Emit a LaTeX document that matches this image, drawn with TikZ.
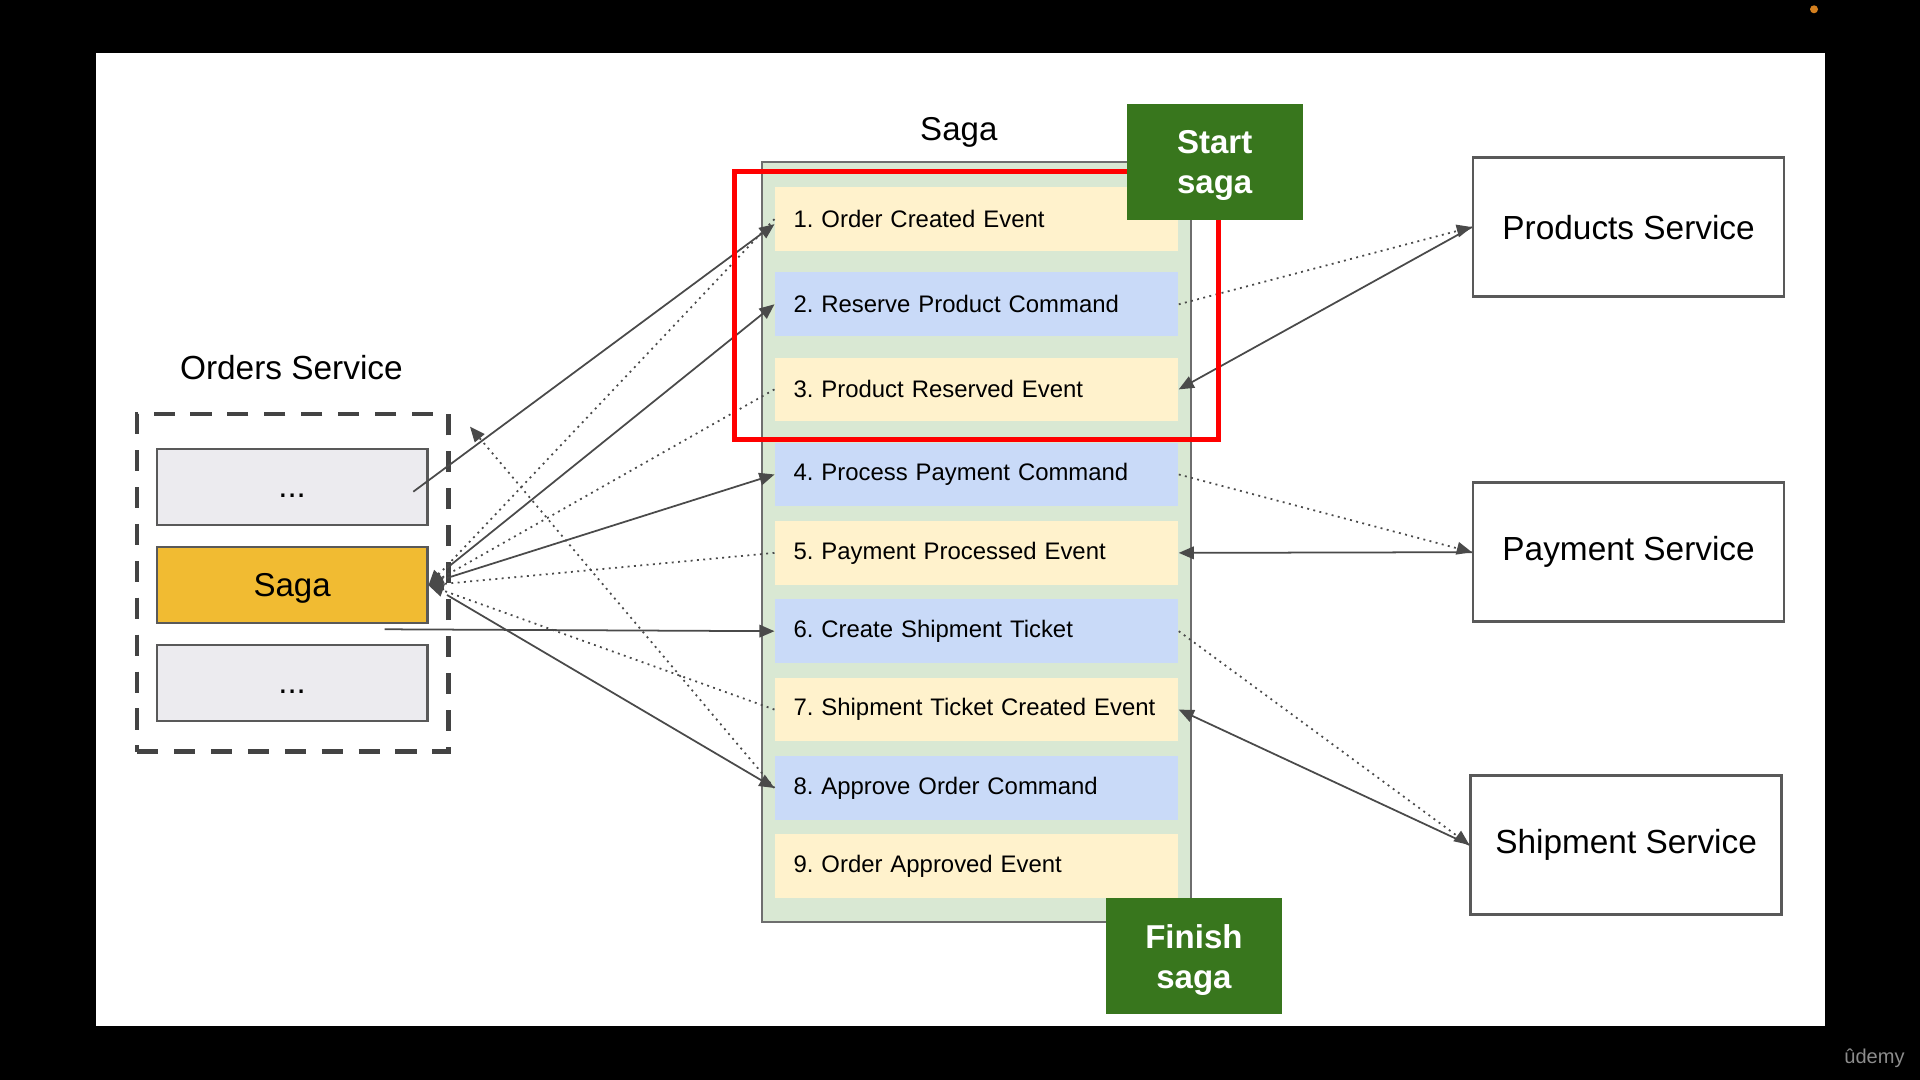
\documentclass[tikz,border=0pt]{standalone}
\usepackage{fontspec}
\setmainfont{Liberation Sans}
\usepackage{tikz}
\usetikzlibrary{arrows,arrows.meta,calc}
\usepackage{xcolor}
\definecolor{boxline}{HTML}{595959}
\definecolor{dashgray}{HTML}{434343}
\definecolor{lanegray}{HTML}{6E6E6E}
\definecolor{wirecol}{HTML}{4A4A4A}
\definecolor{blankfill}{HTML}{ECEBEF}
\definecolor{sagagold}{HTML}{F1BB32}
\definecolor{lanegreen}{HTML}{D9E8D3}
\definecolor{eventyellow}{HTML}{FFF2CC}
\definecolor{cmdblue}{HTML}{C9DAF8}
\definecolor{darkgreen}{HTML}{38761D}
\definecolor{udemygray}{HTML}{8C8C8C}
\definecolor{recdot}{HTML}{D4801F}
\tikzstyle{eventrow}=[fill=eventyellow]
\tikzstyle{cmdrow}=[fill=cmdblue]
\tikzstyle{service}=[draw=boxline, line width=.7pt, fill=white, minimum width=3.11cm, minimum height=1.39cm, font=\fontsize{9.5}{11.5}\selectfont]
\tikzstyle{orderbox}=[draw=boxline, line width=.6pt, minimum width=2.707cm, minimum height=.759cm, text depth=0pt, font=\fontsize{9.4}{11}\selectfont]
\tikzstyle{milestone}=[fill=darkgreen, text=white, minimum width=1.764cm, minimum height=1.16cm, align=center, text depth=0pt, font=\bfseries\fontsize{9.4}{11.5}\selectfont]
\tikzstyle{solidwire}=[wirecol, line width=.5pt, -{Triangle[length=4.3pt,width=3.6pt]}]
\tikzstyle{dotwire}=[solidwire, dash pattern=on .55pt off 1.25pt]
\newcommand{\sagarow}[4]{
 \node[#2, minimum height=.637cm, text width=3.661cm, inner xsep=.184cm, inner ysep=0pt, align=left, font=\fontsize{6.8}{8}\selectfont] (#1) at (9.766,#3) {#4};
}

\begin{document}
\frenchspacing
\begin{tikzpicture}
 \fill[black] (0,0) rectangle (19.2,10.8);
 \fill[white] (.955,.54) rectangle (18.245,10.273);
 \useasboundingbox (0,0) rectangle (19.2,10.8);
 \fill[recdot] (18.14,10.707) circle (.04);
 \node[text=udemygray, font=\fontsize{5.7}{7}\selectfont] (brand) at (18.745,.22) {ûdemy};
%
 \node[font=\fontsize{9.5}{11.5}\selectfont] (orderstitle) at (2.914,7.126) {Orders Service};
 \node[draw=dashgray, line width=1.3pt, dash pattern=on 6pt off 4.5pt, minimum width=3.111cm, minimum height=3.379cm] (orders) at (2.927,4.972) {};
 \node[orderbox, fill=blankfill, text height=5.8pt] (dotsA) at (2.921,5.927) {...};
 \node[orderbox, fill=sagagold] (saga) at (2.921,4.947) {Saga};
 \node[orderbox, fill=blankfill, text height=5.8pt] (dotsB) at (2.921,3.968) {...};
%
 \node[font=\fontsize{9.4}{11}\selectfont] (sagatitle) at (9.588,9.478) {Saga};
 \node[fill=lanegreen, draw=lanegray, line width=.6pt, minimum width=4.298cm, minimum height=7.605cm] (lane) at (9.765,5.3815) {};
 \sagarow{r1}{eventrow}{8.608}{1. Order Created Event}
 \sagarow{r2}{cmdrow}{7.757}{2. Reserve Product Command}
 \sagarow{r3}{eventrow}{6.906}{3. Product Reserved Event}
 \sagarow{r4}{cmdrow}{6.055}{4. Process Payment Command}
 \sagarow{r5}{eventrow}{5.271}{5. Payment Processed Event}
 \sagarow{r6}{cmdrow}{4.488}{6. Create Shipment Ticket}
 \sagarow{r7}{eventrow}{3.704}{7. Shipment Ticket Created Event}
 \sagarow{r8}{cmdrow}{2.920}{8. Approve Order Command}
 \sagarow{r9}{eventrow}{2.137}{9. Order Approved Event}
%
 \node[service] (products) at (16.286,8.529) {Products Service};
 \node[service] (payment) at (16.286,5.278) {Payment Service};
 \node[service] (shipment) at (16.261,2.351) {Shipment Service};
%
 \coordinate (dotsport) at (4.133,5.883);
 \coordinate (sagaport) at (4.47,5.0);
 \coordinate (ticketport) at (3.845,4.507);
 \coordinate (ordersnotice) at (4.70,6.533);
 \draw[solidwire] (dotsport) -- ([yshift=-.05cm]r1.west);
 \draw[solidwire] ([yshift=.12cm]sagaport) -- (r2.west);
 \draw[solidwire] ([yshift=.02cm]sagaport) -- (r4.west);
 \draw[solidwire] (ticketport) -- (r6.west);
 \draw[solidwire] ([yshift=-.15cm]sagaport) -- (r8.west);
 \draw[dotwire] (r1.west) -- (saga.east);
 \draw[dotwire] (r3.west) -- (saga.east);
 \draw[dotwire] (r5.west) -- (saga.east);
 \draw[dotwire] (r7.west) -- (saga.east);
 \draw[dotwire] (r8.west) -- (ordersnotice);
%
 \draw[dotwire] (r2.east) -- (products.west);
 \draw[solidwire] (products.west) -- (r3.east);
 \draw[dotwire] (r4.east) -- (payment.west);
 \draw[solidwire] (payment.west) -- (r5.east);
 \draw[dotwire] (r6.east) -- (shipment.west);
 \draw[solidwire] (shipment.west) -- (r7.east);
%
 \draw[red, line width=1.4pt] (7.347,6.404) rectangle (12.184,9.086);
 \node[milestone] (start) at (12.147,9.178) {Start\\saga};
 \node[milestone] (finish) at (11.939,1.237) {Finish\\saga};
\end{tikzpicture}
\end{document}
